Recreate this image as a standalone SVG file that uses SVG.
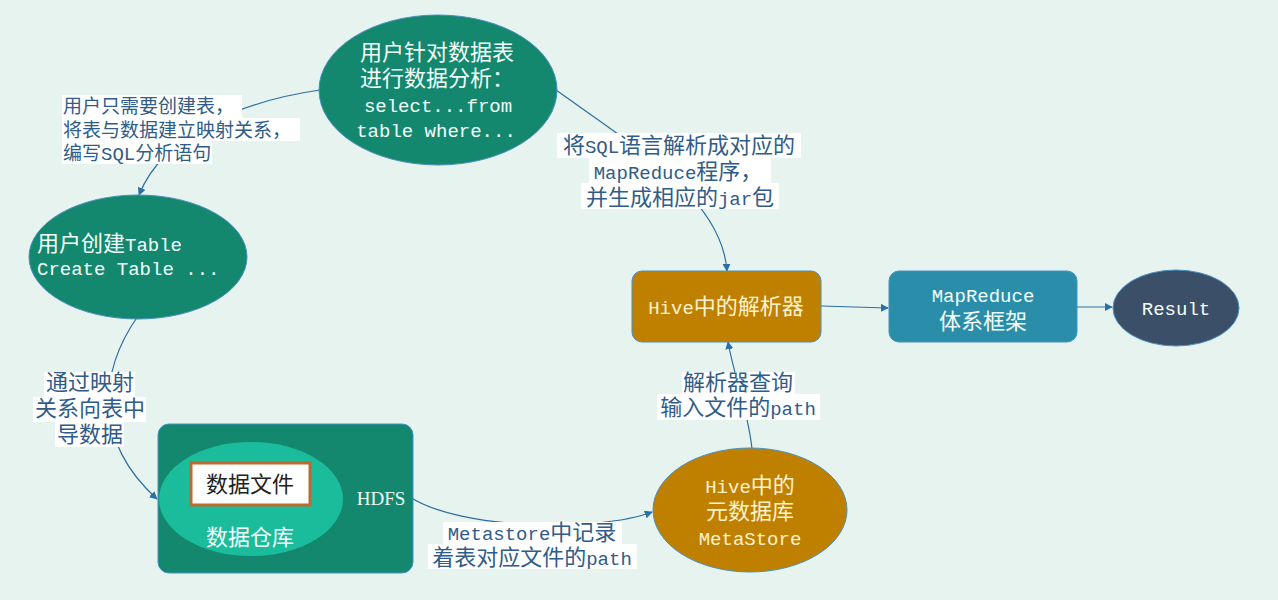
<svg xmlns="http://www.w3.org/2000/svg" width="1278" height="600" viewBox="0 0 1278 600">
<defs>
<style>
.t{font-family:"Liberation Mono","Noto Sans CJK SC",monospace;font-size:22px}
.m{font-size:19px}
.s{font-size:19px}
.lb{fill:#2F5C88}
.w{fill:#F4FFFA}
.y{fill:#FFF2CC}
.k{fill:#222222}
.box{fill:#FFFFFF}
.edge{fill:none;stroke:#2E6E9E;stroke-width:1.2}
.ns{stroke:#4A90BE;stroke-width:1}
</style>
<marker id="arr" viewBox="0 0 10 10" refX="9" refY="5" markerWidth="8" markerHeight="8" markerUnits="userSpaceOnUse" orient="auto">
<path d="M0,0 L10,5 L0,10 z" fill="#2A6FA8"/>
</marker>
</defs>
<rect x="0" y="0" width="1278" height="600" fill="#E6F3EF"/>

<g id="connectors">
<path class="edge" d="M320,90 C250,100 165,130 139,195" marker-end="url(#arr)"/>
<path class="edge" d="M556,90 C640,150 722,200 727,271" marker-end="url(#arr)"/>
<path class="edge" d="M138,316 C100,370 92,440 157,499" marker-end="url(#arr)"/>
<path class="edge" d="M410,497 C460,530 600,532 652,512" marker-end="url(#arr)"/>
<path class="edge" d="M752,449 C748,410 735,380 728,342" marker-end="url(#arr)"/>
<path class="edge" d="M821,306 L888,308" marker-end="url(#arr)"/>
<path class="edge" d="M1077,307 L1112,307" marker-end="url(#arr)"/>
</g>

<g id="label-create">
<rect class="box" x="62" y="95" width="180" height="23"/>
<rect class="box" x="62" y="118" width="238" height="23"/>
<rect class="box" x="62" y="141" width="150" height="23"/>
<text class="t s lb" x="63" y="113">用户只需要创建表，</text>
<text class="t s lb" x="63" y="137">将表与数据建立映射关系，</text>
<text class="t s lb" x="63" y="160">编写SQL分析语句</text>
</g>

<g id="label-parse">
<rect class="box" x="557" y="133" width="244" height="25"/>
<rect class="box" x="589" y="158" width="182" height="25"/>
<rect class="box" x="581" y="183" width="198" height="26"/>
<text class="t lb" x="679" y="153" text-anchor="middle">将<tspan class="m">SQL</tspan>语言解析成对应的</text>
<text class="t lb" x="678" y="179" text-anchor="middle"><tspan class="m">MapReduce</tspan>程序，</text>
<text class="t lb" x="680" y="205" text-anchor="middle">并生成相应的<tspan class="m">jar</tspan>包</text>
</g>

<g id="label-map">
<rect class="box" x="44" y="372" width="91" height="25"/>
<rect class="box" x="33" y="397" width="113" height="25"/>
<rect class="box" x="55" y="422" width="69" height="25"/>
<text class="t lb" x="90" y="390" text-anchor="middle">通过映射</text>
<text class="t lb" x="90" y="416" text-anchor="middle">关系向表中</text>
<text class="t lb" x="90" y="442" text-anchor="middle">导数据</text>
</g>

<g id="label-query">
<rect class="box" x="682" y="372" width="113" height="22"/>
<rect class="box" x="657" y="394" width="163" height="26"/>
<text class="t lb" x="738" y="390" text-anchor="middle">解析器查询</text>
<text class="t lb" x="738" y="415" text-anchor="middle">输入文件的<tspan class="m">path</tspan></text>
</g>

<g id="label-meta">
<rect class="box" x="443" y="522" width="179" height="22"/>
<rect class="box" x="428" y="544" width="209" height="25"/>
<text class="t lb" x="532" y="540" text-anchor="middle"><tspan class="m">Metastore</tspan>中记录</text>
<text class="t lb" x="532" y="565" text-anchor="middle">着表对应文件的<tspan class="m">path</tspan></text>
</g>

<g id="node-analyze">
<ellipse class="ns" cx="438" cy="90" rx="119" ry="75" fill="#13886F"/>
<text class="t w" x="437" y="60" text-anchor="middle">用户针对数据表</text>
<text class="t w" x="437" y="86" text-anchor="middle">进行数据分析：</text>
<text class="t m w" x="438" y="112" text-anchor="middle">select...from</text>
<text class="t m w" x="436" y="137" text-anchor="middle">table where...</text>
</g>

<g id="node-create">
<ellipse class="ns" cx="138" cy="257" rx="109" ry="62" fill="#13886F"/>
<text class="t w" x="37" y="251">用户创建<tspan class="m">Table</tspan></text>
<text class="t m w" x="37" y="275">Create Table ...</text>
</g>

<g id="node-hdfs">
<rect class="ns" x="158" y="424" width="255" height="149" rx="11" fill="#13886F"/>
<ellipse cx="251" cy="499" rx="92" ry="57" fill="#1BBC9B"/>
<rect x="191" y="463" width="119" height="42" fill="#FFFFFF" stroke="#C0692C" stroke-width="3"/>
<text class="t k" x="250" y="492" text-anchor="middle">数据文件</text>
<text class="t w" x="250" y="545" text-anchor="middle">数据仓库</text>
<text x="381" y="505" text-anchor="middle" font-family="Liberation Serif" font-size="19" fill="#F4FFFA">HDFS</text>
</g>

<g id="node-parser">
<rect class="ns" x="632" y="271" width="189" height="71" rx="10" fill="#BF8000"/>
<text class="t y" x="726" y="314" text-anchor="middle"><tspan class="m">Hive</tspan>中的解析器</text>
</g>

<g id="node-mapreduce">
<rect class="ns" x="889" y="271" width="188" height="71" rx="10" fill="#2A8EAA"/>
<text class="t m w" x="983" y="302" text-anchor="middle">MapReduce</text>
<text class="t w" x="983" y="329" text-anchor="middle">体系框架</text>
</g>

<g id="node-result">
<ellipse class="ns" cx="1176" cy="308" rx="63" ry="38" fill="#3B5068"/>
<text class="t m w" x="1176" y="315" text-anchor="middle">Result</text>
</g>

<g id="node-metastore">
<ellipse class="ns" cx="750" cy="510" rx="97" ry="62" fill="#BF8000"/>
<text class="t y" x="750" y="493" text-anchor="middle"><tspan class="m">Hive</tspan>中的</text>
<text class="t y" x="750" y="519" text-anchor="middle">元数据库</text>
<text class="t m y" x="750" y="545" text-anchor="middle">MetaStore</text>
</g>
</svg>
